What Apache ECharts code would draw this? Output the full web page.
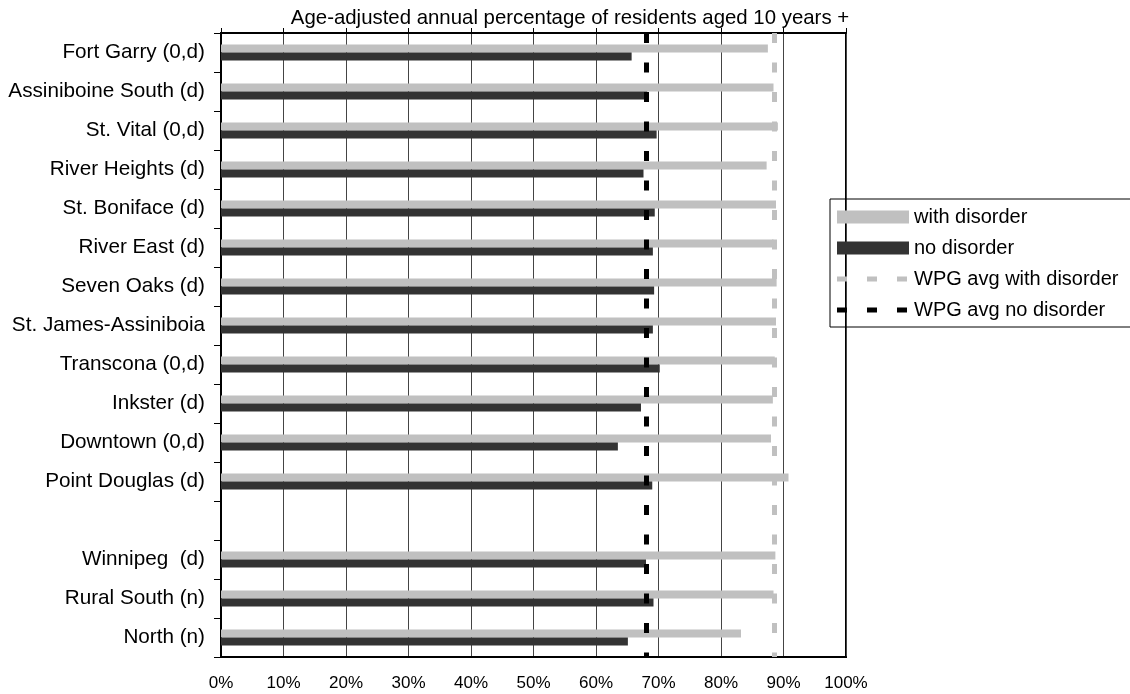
<!DOCTYPE html>
<html>
<head>
<meta charset="utf-8">
<script src="https://cdn.jsdelivr.net/npm/echarts@6/dist/echarts.min.js"></script>
<style>
  html, body { margin: 0; padding: 0; background: #fff; }
  #chart { width: 1130px; height: 694px; }
</style>
</head>
<body>
<div id="chart"></div>
<script>
const titleText = 'Age-adjusted annual percentage of residents aged 10 years +';
const categories = ['Fort Garry (0,d)', 'Assiniboine South (d)', 'St. Vital (0,d)', 'River Heights (d)',
  'St. Boniface (d)', 'River East (d)', 'Seven Oaks (d)', 'St. James-Assiniboia', 'Transcona (0,d)',
  'Inkster (d)', 'Downtown (0,d)', 'Point Douglas (d)', '', 'Winnipeg  (d)', 'Rural South (n)', 'North (n)'];
const withDisorder = [87.5, 88.4, 89.1, 87.3, 88.8, 88.4, 88.9, 88.8, 88.6, 88.3, 88.0, 90.8, null, 88.7, 88.4, 83.2];
const noDisorder   = [65.7, 68.2, 69.7, 67.6, 69.4, 69.1, 69.3, 69.1, 70.2, 67.2, 63.5, 69.0, null, 68.0, 69.2, 65.1];
const wpgAvgWith = 88.5;
const wpgAvgNo = 68.0;
const seriesNames = ['with disorder', 'no disorder', 'WPG avg with disorder', 'WPG avg no disorder'];
const xTicks = { min: 0, max: 100, interval: 10 };

const FONT = '"Liberation Sans", Arial, sans-serif';
// legend icon for the dashed average lines: three short dashes in a 72x13 box
const DASH_ICON = 'path://M0,0h0.01v0.01h-0.01z M71.99,12.99h0.01v0.01h-0.01z ' +
  'M0,4h10v5h-10z M30,4h10v5h-10z M60,4h10v5h-10z';

const chart = echarts.init(document.getElementById('chart'));

function avgLine(name, value, color) {
  return {
    name: name,
    type: 'line',
    data: [],
    symbol: 'none',
    lineStyle: { color: color, width: 5, type: [10, 20] },
    itemStyle: { color: color, borderWidth: 0 },
    z: 5,
    markLine: {
      silent: true,
      symbol: ['none', 'none'],
      label: { show: false },
      lineStyle: { color: color, width: 5, type: [10, 19.5] },
      data: [{ xAxis: value }]
    }
  };
}

chart.setOption({
  animation: false,
  backgroundColor: '#fff',
  textStyle: { fontFamily: FONT, color: '#000' },
  title: {
    text: titleText,
    left: 565,
    textAlign: 'center',
    top: 3,
    textStyle: { fontFamily: FONT, fontSize: 20.4, fontWeight: 'normal', color: '#000' }
  },
  legend: {
    orient: 'vertical',
    left: 830,
    top: 199,
    padding: [8, 12, 7, 7],
    borderColor: '#000',
    borderWidth: 1,
    itemWidth: 72,
    itemHeight: 13,
    itemGap: 11,
    selectedMode: false,
    itemStyle: { borderWidth: 0 },
    textStyle: { fontFamily: FONT, fontSize: 20, color: '#000' },
    data: [
      { name: seriesNames[0], icon: 'rect' },
      { name: seriesNames[1], icon: 'rect' },
      { name: seriesNames[2], icon: DASH_ICON },
      { name: seriesNames[3], icon: DASH_ICON }
    ]
  },
  grid: {
    left: 221, right: 284, top: 33, bottom: 37,
    show: true, borderColor: '#000', borderWidth: 2, backgroundColor: 'transparent'
  },
  xAxis: [
    {
      type: 'value', position: 'bottom',
      min: xTicks.min, max: xTicks.max, interval: xTicks.interval,
      axisLine: { show: true, lineStyle: { color: '#000', width: 2 } },
      axisTick: { show: false },
      axisLabel: { formatter: '{value}%', fontSize: 17, color: '#000', fontFamily: FONT, margin: 18 },
      splitLine: { show: true, lineStyle: { color: '#444', width: 1 } }
    },
    {
      type: 'value', position: 'top',
      min: xTicks.min, max: xTicks.max, interval: xTicks.interval,
      axisLine: { show: true, lineStyle: { color: '#000', width: 2 } },
      axisTick: { show: true, inside: false, length: 5, lineStyle: { color: '#000', width: 1 } },
      axisLabel: { show: false },
      splitLine: { show: false }
    }
  ],
  yAxis: {
    type: 'category',
    inverse: true,
    data: categories,
    axisLine: { show: true, lineStyle: { color: '#000', width: 2 } },
    axisTick: { show: true, inside: false, length: 7, lineStyle: { color: '#000', width: 1 } },
    axisLabel: { fontSize: 20.7, color: '#000', fontFamily: FONT, margin: 16, interval: 0 },
    splitLine: { show: false }
  },
  series: [
    {
      name: seriesNames[0], type: 'bar', data: withDisorder,
      barWidth: 8, barGap: '0%',
      itemStyle: { color: '#C0C0C0' }
    },
    {
      name: seriesNames[1], type: 'bar', data: noDisorder,
      barWidth: 8, barGap: '0%',
      itemStyle: { color: '#333333' }
    },
    avgLine(seriesNames[2], wpgAvgWith, '#C0C0C0'),
    avgLine(seriesNames[3], wpgAvgNo, '#000000')
  ]
});
</script>
</body>
</html>
